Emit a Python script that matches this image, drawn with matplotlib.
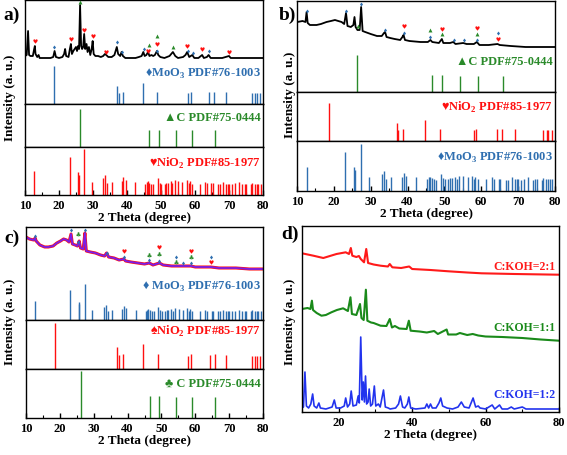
import numpy as np
import matplotlib
matplotlib.use('Agg')
import matplotlib.pyplot as plt

# --- fonts ---
plt.rcParams['font.family'] = ['Liberation Serif', 'DejaVu Sans']
plt.rcParams['font.weight'] = 'bold'
plt.rcParams['axes.linewidth'] = 1.0

W, H = 567, 456
BLUE = '#2f6fb0'
RED = '#ff1010'
GREEN = '#2a8a2a'
PURPLE = '#7a1ee8'

# --- reference stick patterns (2theta, relative intensity) ---
dense_pos = [12.7, 23.1, 25.6, 25.8, 27.3, 29.6, 33.0, 33.6, 34.2, 35.5, 38.4, 38.9, 39.6,
             42.4, 45.4, 45.8, 46.1, 46.5, 47.1, 47.7, 49.1, 49.7, 50.1, 51.1, 51.6, 52.0,
             52.8, 53.3, 54.0, 55.1, 56.3, 57.6, 58.1, 58.4, 59.0, 61.4, 62.8, 63.5, 64.8,
             65.2, 66.8, 67.3, 68.2, 69.1, 69.6, 69.9, 70.8, 71.7, 72.8, 73.9, 74.7, 75.1,
             76.4, 76.7, 77.5, 78.2, 78.6, 79.3]
dense_int = [52, 82, 51, 44, 100, 29, 36, 43, 26, 29, 30, 39, 32,
             29, 25, 29, 30, 27, 25, 24, 36, 27, 25, 25, 27, 27,
             30, 26, 32, 31, 29, 32, 26, 30, 25, 25, 29, 26, 26,
             26, 24, 24, 29, 25, 25, 25, 24, 26, 29, 24, 25, 25,
             24, 27, 25, 25, 25, 25]
sparse_pos = [18.6, 37.0, 37.5, 38.7, 44.6, 48.9, 57.9, 58.7, 64.2, 65.7, 69.1, 76.8, 77.7, 78.2, 79.1]
sparse_int = [100, 48, 30, 32, 55, 32, 28, 32, 31, 32, 31, 28, 28, 28, 28]
carbon_pos = [26.2, 46.6, 49.3, 54.3, 59.1, 65.8]
carbon_int = [100, 46, 46, 44, 44, 44]

# --- measured patterns (2theta, intensity a.u.) ---
a_x = [10.0, 10.5, 10.9, 11.2, 11.6, 12.3, 12.7, 12.9, 13.1, 13.6, 14.0, 14.3, 15.5, 16.5,
       17.5, 18.3, 18.7, 19.1, 20.0, 21.0, 21.5, 21.8, 22.1, 22.8, 23.2, 23.5, 23.8, 24.2,
       24.6, 25.0, 25.3, 25.6, 25.9, 26.2, 26.5, 26.8, 27.1, 27.4, 27.7, 28.1, 28.4, 28.8,
       29.2, 29.6, 29.9, 30.2, 30.7, 31.5, 32.3, 33.0, 33.5, 33.9, 34.5, 35.5, 36.3, 37.0,
       37.4, 38.0, 38.4, 38.8, 39.5, 41.0, 42.5, 43.5, 44.3, 44.8, 45.2, 45.7, 46.2, 46.6,
       47.2, 47.7, 48.2, 48.8, 49.2, 49.8, 51.0, 52.5, 53.5, 54.2, 55.0, 56.5, 57.2, 57.7,
       58.3, 59.2, 59.8, 61.0, 62.1, 62.6, 63.5, 64.0, 64.6, 66.0, 68.0, 70.0, 70.5, 73.0,
       76.0, 80.0]
a_y = [48, 49, 73, 49, 48, 48, 55, 58, 50, 47, 49, 46, 46, 46,
       46, 47, 53, 47, 46, 47, 50, 55, 48, 47, 55, 60, 50, 53,
       55, 57, 53, 58, 55, 99, 58, 55, 57, 70, 55, 60, 52, 57,
       49, 55, 63, 50, 48, 48, 47, 48, 50, 49, 47, 47, 49, 57,
       50, 48, 52, 48, 46, 46, 46, 47, 48, 52, 48, 49, 52, 48,
       49, 48, 49, 53, 49, 47, 46, 48, 52, 48, 46, 47, 49, 52,
       47, 49, 46, 46, 49, 46, 47, 49, 46, 46, 46, 48, 46, 46,
       46, 46]

b_x = [10.1, 11.5, 12.3, 12.6, 12.9, 13.5, 15.3, 16.5, 18.0, 19.2, 20.3, 21.2, 22.1, 22.8,
       23.3, 23.7, 24.6, 25.3, 25.6, 25.9, 26.4, 27.0, 27.4, 27.8, 28.5, 30.0, 31.7, 33.0,
       33.6, 33.9, 34.3, 35.3, 36.5, 38.0, 38.6, 38.9, 39.3, 40.5, 43.5, 45.5, 46.2, 46.7,
       48.5, 49.3, 49.7, 51.5, 52.4, 53.0, 55.1, 56.0, 58.0, 58.8, 59.5, 62.0, 64.4, 65.0,
       68.0, 72.0, 76.0, 80.0]
b_y = [70, 71, 70, 80, 69, 67, 67, 68, 70, 71, 72, 71, 70, 68,
       79, 66, 65, 67, 75, 65, 62, 62, 85, 61, 60, 58, 56, 56,
       59, 60, 55, 54, 53, 52, 55, 57, 52, 51, 50, 50, 52, 50,
       49, 53, 49, 49, 50, 48, 49, 48, 48, 50, 47, 47, 48, 47,
       46, 45, 45, 45]

c_x = [10.0, 11.0, 12.3, 12.7, 13.0, 14.1, 15.5, 16.6, 18.0, 19.1, 20.2, 21.1, 22.0, 22.7,
       23.3, 23.7, 24.5, 25.2, 25.7, 26.1, 26.9, 27.4, 27.8, 29.0, 30.5, 32.0, 33.2, 33.8,
       34.4, 36.0, 37.5, 38.9, 39.4, 41.0, 43.0, 45.0, 46.4, 47.5, 49.4, 50.5, 53.0, 55.0,
       58.7, 60.0, 64.6, 67.0, 72.0, 76.0, 80.0]
c_y = [83, 81, 80, 82, 79, 75, 73, 73, 74, 77, 79, 81, 80, 78,
       86, 76, 75, 74, 79, 72, 71, 87, 69, 68, 67, 65, 64, 67,
       63, 62, 60, 61, 59, 58, 57, 56, 57, 55, 57, 55, 54, 54,
       54, 53, 53, 52, 52, 51, 51]

d_x_red = [10.0, 13.1, 15.8, 19.4, 21.9, 22.8, 23.3, 23.7, 24.8, 25.5, 26.0, 26.9, 27.5,
           28.0, 29.5, 31.4, 33.4, 33.9, 34.6, 37.0, 39.2, 40.0, 45.0, 49.9, 55.0, 58.9,
           67.9, 80.0]
d_y_red = [158.7, 156.3, 154, 158, 159.7, 158, 164, 156.3, 155, 156, 153, 149.7, 163,
           149, 147.5, 146.3, 145.5, 148, 144.7, 144, 145.5, 143, 142, 140.7, 139.5, 138.7,
           138, 137.3]
d_x_green = [10.0, 11.5, 12.3, 12.7, 13.0, 14.0, 15.3, 16.5, 18.0, 19.5, 21.2, 22.5, 23.2,
             23.6, 24.8, 25.8, 26.2, 26.8, 27.4, 27.8, 28.8, 29.5, 31.4, 33.0, 33.9, 34.5,
             35.3, 36.5, 38.5, 39.1, 39.6, 42.0, 44.0, 46.0, 47.0, 49.4, 49.8, 52.0, 53.0,
             55.0, 56.5, 58.0, 60.0, 64.5, 70.0, 75.0, 80.0]
d_y_green = [103, 104, 103, 111.3, 102, 99, 96.3, 97, 99.7, 102, 103.7, 101, 114.7,
             98, 97, 108, 94, 92, 122.3, 91.3, 89.5, 89, 86.3, 86, 93, 84.5,
             86, 83.5, 83, 91.3, 81.3, 80.5, 79.5, 81, 78, 82.5, 77.5, 77.5, 79,
             77, 78, 76.5, 75.5, 75, 74, 72.5, 71.3]
d_x_blue = [10.0, 10.4, 10.8, 11.2, 11.8, 12.4, 12.9, 13.3, 14.0, 14.6, 15.0, 16.5, 18.2,
            18.8, 19.3, 20.5, 21.5, 21.9, 22.4, 23.0, 23.4, 23.9, 24.8, 25.3, 25.6, 26.0,
            26.4, 26.7, 27.0, 27.3, 27.6, 28.0, 28.3, 28.7, 29.2, 29.7, 30.1, 30.8, 31.3,
            32.2, 32.7, 33.5, 34.0, 35.5, 36.3, 36.8, 37.4, 38.0, 38.7, 39.1, 39.6, 41.0,
            43.5, 44.0, 44.5, 45.0, 45.5, 46.5, 47.3, 47.8, 48.3, 49.5, 51.0, 52.5, 53.4,
            54.2, 55.5, 56.6, 57.3, 58.0, 58.5, 60.0, 61.8, 62.5, 63.8, 64.5, 66.0, 67.0,
            67.8, 70.0, 71.0, 75.0, 80.0]
d_y_blue = [4, 5, 40, 6, 4, 8, 18, 6, 4, 9, 4, 3, 5,
            12, 4, 4, 6, 14, 5, 8, 21, 6, 7, 16, 9, 75,
            12, 30, 10, 36, 8, 10, 23, 6, 8, 26, 6, 8, 5,
            22, 5, 4, 3, 4, 8, 16, 5, 4, 8, 15, 4, 3,
            4, 8, 4, 8, 4, 4, 9, 14, 6, 4, 3, 5, 10,
            5, 4, 14, 5, 6, 4, 3, 7, 3, 7, 3, 3, 5,
            3, 5, 3, 3, 3]

# --- phase markers on the measured patterns ---
a_moo3 = ([18.6, 37.1, 38.6, 45.0, 48.9, 58.0, 59.3, 64.1], [57, 62, 52, 55, 53, 53, 51, 53])
a_nio2 = ([12.8, 23.4, 27.35, 29.9, 33.8, 46.1, 48.9, 57.75, 62.1, 69.9], [63, 65, 74, 68, 52, 53, 60, 58, 55, 52])
a_c = ([26.2, 46.4, 48.9, 53.6], [102, 59, 68, 57])
b_moo3 = ([12.6, 23.3, 27.4, 33.9, 38.9, 46.2, 52.5, 55.2, 58.8, 64.4], [81, 81, 88, 62, 59, 55, 52, 52, 52, 59])
b_nio2 = ([38.9, 49.3, 58.8, 64.4], [66, 63, 64, 53])
b_c = ([26.5, 46.2, 49.3, 58.8], [66, 62, 58, 58])
c_moo3 = ([12.7, 23.3, 25.3, 27.5, 33.8, 38.95, 46.4, 49.4, 54.2, 56.5, 58.7, 64.6],
          [84, 90, 78, 90, 67, 63, 60, 59, 63, 57, 57, 63])
c_nio2 = ([38.95, 49.4, 58.7, 64.6], [69, 73, 69, 58])
c_c = ([25.3, 46.4, 49.4, 54.2, 58.7], [86, 65, 66, 58, 63])

fig = plt.figure(figsize=(W / 100, H / 100), dpi=100)


def add_box(left, top, right, bottom):
    ax = fig.add_axes([left / W, 1 - bottom / H, (right - left) / W, (bottom - top) / H])
    ax.set_xlim(10, 80)
    ax.set_ylim(0, bottom - top)
    ax.set_yticks([])
    return ax


def stack(left, right, edges):
    axes = [add_box(left, edges[i], right, edges[i + 1]) for i in range(len(edges) - 1)]
    for ax in axes[:-1]:
        ax.tick_params(axis='x', which='both', bottom=False, labelbottom=False)
    bot = axes[-1]
    bot.set_xticks(range(10, 81, 10))
    bot.set_xticks(range(15, 80, 10), minor=True)
    bot.tick_params(axis='x', which='major', direction='in', length=3.5, width=1, pad=3, labelsize=9)
    bot.tick_params(axis='x', which='minor', direction='in', length=2, width=0.8)
    bot.set_xlabel('2 Theta (degree)', fontsize=9.5, fontweight='bold', labelpad=0)
    return axes


def sticks(ax, pos, inten, hmax, color):
    ax.vlines(pos, 0, np.array(inten) / 100.0 * hmax, color=color, lw=1.0)


def ref_label(ax, y, text, color):
    ax.text(79.3, y, text, color=color, fontsize=9, fontweight='bold', ha='right', va='center')


# phase symbols drawn as scatter markers (mathtext glyphs)
SYM = {'moo3': ('$\u2666$', 8), 'nio2': ('$\u2665$', 10), 'tri': ('$\u25b2$', 8),
       'club': ('$\u2663$', 11)}


def marks(ax, pts, kind, color):
    m, s = SYM[kind]
    ax.scatter(pts[0], pts[1], marker=m, s=s, color=color, linewidths=0, zorder=4)


MOO3 = 'MoO$_\\mathregular{3}$ PDF#76-1003'
NIO2 = 'NiO$_\\mathregular{2}$ PDF#85-1977'
CARB = 'C PDF#75-0444'

# ---------- panel a ----------
a_top, a_mid, a_bot = stack(25, 263, [1, 105, 148, 196])
a_top.plot(a_x, a_y, color='black', lw=1.3)
sticks(a_top, sparse_pos, sparse_int, 38, BLUE)
ref_label(a_top, 31, '\u2666' + MOO3, BLUE)
marks(a_top, a_moo3, 'moo3', BLUE)
marks(a_top, a_nio2, 'nio2', RED)
marks(a_top, a_c, 'tri', GREEN)
sticks(a_mid, carbon_pos, carbon_int, 38, GREEN)
ref_label(a_mid, 30, '\u25b2' + CARB, GREEN)
sticks(a_bot, dense_pos, dense_int, 46, RED)
ref_label(a_bot, 33, '\u2665' + NIO2, RED)

# ---------- panel b ----------
b_top, b_mid, b_bot = stack(297, 555, [2, 93, 142, 192])
b_top.plot(b_x, b_y, color='black', lw=1.3)
sticks(b_top, carbon_pos, carbon_int, 37, GREEN)
ref_label(b_top, 31, '\u25b2' + CARB, GREEN)
marks(b_top, b_moo3, 'moo3', BLUE)
marks(b_top, b_nio2, 'nio2', RED)
marks(b_top, b_c, 'tri', GREEN)
sticks(b_mid, sparse_pos, sparse_int, 38, RED)
ref_label(b_mid, 35, '\u2665' + NIO2, RED)
sticks(b_bot, dense_pos, dense_int, 47, BLUE)
ref_label(b_bot, 34, '\u2666' + MOO3, BLUE)

# ---------- panel c ----------
c_top, c_mid, c_bot = stack(26, 263, [228, 321, 370, 419])
c_top.plot(c_x, c_y, color=RED, lw=2.2)
c_top.plot(c_x, c_y, color=PURPLE, lw=1.3)
sticks(c_top, dense_pos, dense_int, 36, BLUE)
ref_label(c_top, 34, '\u2666 ' + MOO3, BLUE)
marks(c_top, c_moo3, 'moo3', BLUE)
marks(c_top, c_nio2, 'nio2', RED)
marks(c_top, c_c, 'club', GREEN)
sticks(c_mid, sparse_pos, sparse_int, 46, RED)
ref_label(c_mid, 39, '\u2660' + NIO2, RED)
sticks(c_bot, carbon_pos, carbon_int, 47, GREEN)
ref_label(c_bot, 35, '\u2663 ' + CARB, GREEN)

# ---------- panel d ----------
d_ax = add_box(302, 227, 559, 413)
d_ax.plot(d_x_red, d_y_red, color='#ff1a1a', lw=1.5)
d_ax.plot(d_x_green, d_y_green, color='#1a8a1a', lw=1.5)
d_ax.plot(d_x_blue, d_y_blue, color='#2233ee', lw=1.2)
d_ax.set_xticks([20, 40, 60, 80])
d_ax.set_xticks([10, 30, 50, 70], minor=True)
d_ax.tick_params(axis='x', which='major', direction='in', length=3.5, width=1, pad=3, labelsize=9)
d_ax.tick_params(axis='x', which='minor', direction='in', length=2, width=0.8)
d_ax.set_xlabel('2 Theta (degree)', fontsize=9.5, fontweight='bold', labelpad=0)
d_ax.text(79.0, 146, 'C:KOH=2:1', color='#ff1a1a', fontsize=8.5, fontweight='bold', ha='right', va='center')
d_ax.text(79.0, 85, 'C:KOH=1:1', color='#1a8a1a', fontsize=8.5, fontweight='bold', ha='right', va='center')
d_ax.text(79.0, 18, 'C:KOH=1:2', color='#2233ee', fontsize=8.5, fontweight='bold', ha='right', va='center')

# ---------- labels ----------
for (px, py) in [(10, 98), (290, 95), (10, 322), (290, 322)]:
    fig.text(px / W, 1 - py / H, 'Intensity (a. u.)', rotation=90, fontsize=9.5,
             fontweight='bold', ha='center', va='center')
for (px, py, lab) in [(12, 15, 'a)'), (287, 15, 'b)'), (12, 238, 'c)'), (290, 234, 'd)')]:
    fig.text(px / W, 1 - py / H, lab, fontsize=14, fontweight='bold', ha='center', va='center')

fig.savefig('out.png', dpi=100)
